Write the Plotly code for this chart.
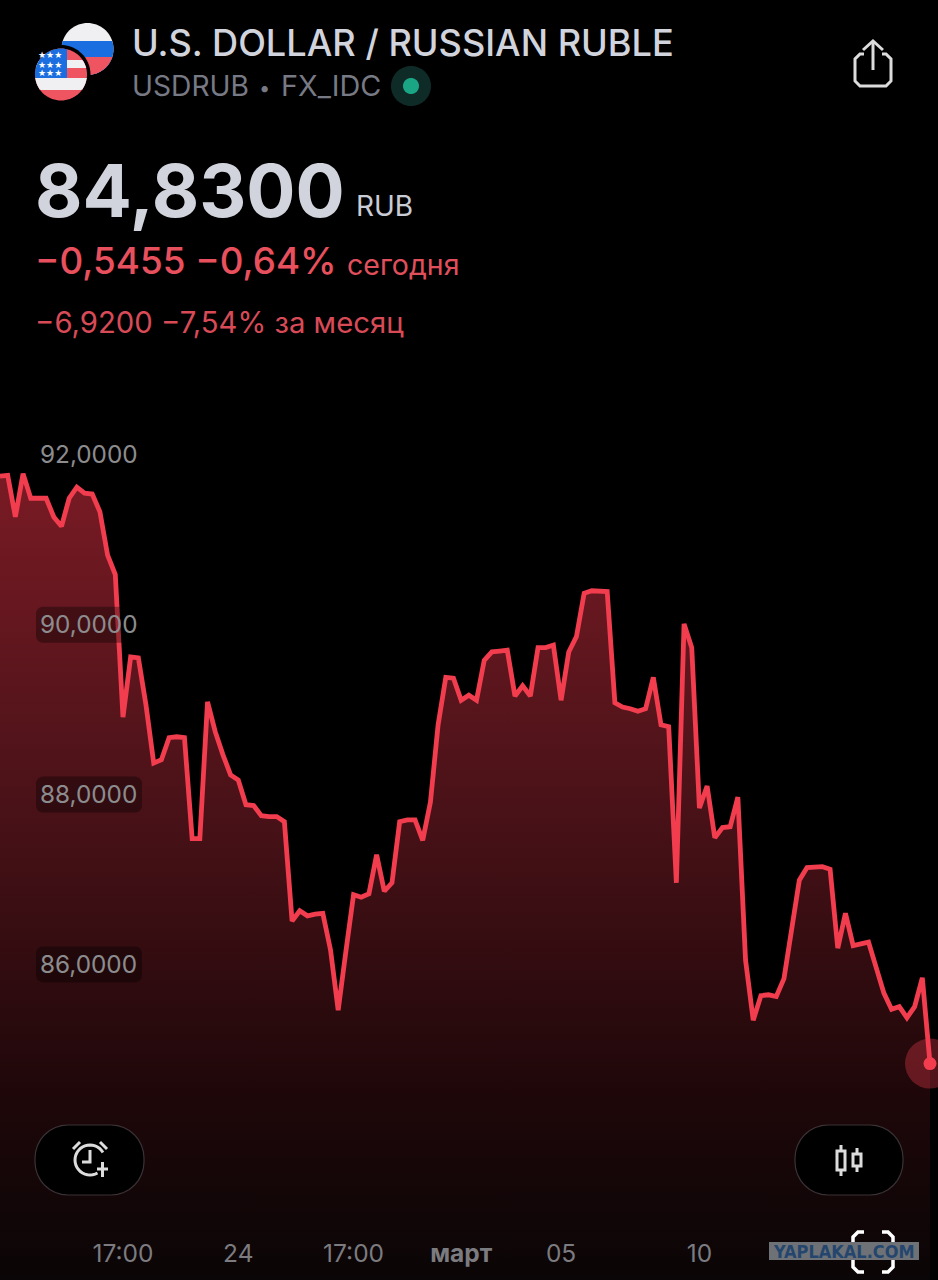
import math
import plotly.graph_objects as go

# USDRUB closes, left to right
prices = [
    91.75, 91.76, 91.27, 91.78, 91.49, 91.49, 91.49, 91.27, 91.16, 91.49,
    91.62, 91.55, 91.54, 91.33, 90.82, 90.59, 88.91, 89.62, 89.61, 89.05,
    88.37, 88.41, 88.67, 88.68, 88.67, 87.48, 87.48, 89.09, 88.74, 88.47,
    88.23, 88.17, 87.88, 87.87, 87.75, 87.74, 87.74, 87.68, 86.51, 86.63,
    86.57, 86.59, 86.60, 86.17, 85.46, 86.15, 86.82, 86.79, 86.83, 87.29,
    86.86, 86.96, 87.68, 87.70, 87.70, 87.46, 87.91, 88.82, 89.38, 89.37,
    89.11, 89.17, 89.11, 89.58, 89.68, 89.69, 89.70, 89.16, 89.28, 89.16,
    89.73, 89.73, 89.76, 89.11, 89.68, 89.86, 90.37, 90.40, 90.40, 90.39,
    89.08, 89.03, 89.01, 88.98, 89.01, 89.38, 88.82, 88.80, 86.96, 90.01,
    89.73, 87.84, 88.10, 87.49, 87.61, 87.62, 87.97, 86.05, 85.34, 85.63,
    85.64, 85.62, 85.83, 86.40, 86.99, 87.14, 87.15, 87.15, 87.12, 86.19,
    86.60, 86.22, 86.24, 86.26, 85.96, 85.66, 85.47, 85.50, 85.37, 85.50,
    85.84, 84.83,
]
bars = list(range(len(prices)))
last_price = prices[-1]

y_ticks = [92, 90, 88, 86]
y_labels = ["92,0000", "90,0000", "88,0000", "86,0000"]
x_ticks = [16, 31, 46, 60, 73, 91]
x_labels = ["17:00", "24", "17:00", "<b>март</b>", "05", "10"]

W, H = 938, 1280
FONT = "Inter"
RED = "#f23d4f"
TXT_RED = "#e9505e"


def px(x):
    return x / W


def py(y):
    return 1 - y / H


def path(points, close=True):
    d = "M" + " L".join(f"{px(x):.5f},{py(y):.5f}" for x, y in points)
    return d + (" Z" if close else "")


def disc(cx, cy, r, xmax=None, top=None, bottom=None):
    # circle outline clamped to a box, enough for flag stripes
    pts = []
    for i in range(72):
        a = i / 72 * 2 * math.pi
        x = cx + r * math.cos(a)
        y = cy + r * math.sin(a)
        if xmax is not None:
            x = min(x, xmax)
        if top is not None:
            y = max(y, top)
        if bottom is not None:
            y = min(y, bottom)
        pts.append((x, y))
    return pts


def fill_shape(points, color):
    return dict(type="path", xref="paper", yref="paper", path=path(points),
                fillcolor=color, line_width=0, layer="above")


def stroke_shape(points, color="#dcdcdc", width=3, close=False):
    return dict(type="path", xref="paper", yref="paper", path=path(points, close),
                line=dict(color=color, width=width), layer="above")


def rounded(x0, y0, x1, y1, r, steps=8):
    pts = []
    corners = [(x1 - r, y0 + r, -90), (x1 - r, y1 - r, 0), (x0 + r, y1 - r, 90), (x0 + r, y0 + r, 180)]
    for cx, cy, start in corners:
        for i in range(steps + 1):
            a = math.radians(start + 90 * i / steps)
            pts.append((cx + r * math.cos(a), cy + r * math.sin(a)))
    return pts


def label(x, y, text, size, color, weight=400, family=FONT):
    # annotations carry about 3px of padding on the left
    return dict(xref="paper", yref="paper", x=px(x - 3), y=py(y), text=text, showarrow=False,
                xanchor="left", yanchor="middle", align="left",
                font=dict(family=family, size=size, color=color, weight=weight))


fig = go.Figure()
fig.add_trace(go.Scatter(
    x=bars, y=prices, mode="lines", fill="tozeroy",
    line=dict(color=RED, width=4.8),
    fillgradient=dict(type="vertical", start=92, stop=82.28,
                      colorscale=[[0, "#7c1b25"], [0.42, "#4a1218"], [0.78, "#1e0709"], [1, "#0a0506"]]),
    hoverinfo="skip", showlegend=False,
))
fig.add_trace(go.Scatter(
    x=[bars[-1]], y=[last_price], mode="markers",
    marker=dict(size=50, color="rgba(242,61,79,0.33)"), hoverinfo="skip", showlegend=False,
))
fig.add_trace(go.Scatter(
    x=[bars[-1]], y=[last_price], mode="markers",
    marker=dict(size=13, color=RED), hoverinfo="skip", showlegend=False,
))

shapes = [
    dict(type="line", xref="paper", yref="y", x0=0, x1=px(905), y0=last_price, y1=last_price,
         line=dict(color="#a0a0a0", width=1.5, dash="9px,17px"), layer="between"),
]

# boxes behind the price labels
for tick in y_ticks:
    yc = 455 + (92 - tick) * 84.9
    shapes.append(fill_shape(rounded(36, yc - 18, 142, yc + 18, 7), "rgba(0,0,0,0.35)"))

# flags
shapes += [
    fill_shape(disc(87.5, 49, 26), "#f0f0f2"),
    fill_shape(disc(87.5, 49, 26, top=41, bottom=75), "#1a6ee0"),
    fill_shape(disc(87.5, 49, 26, top=57, bottom=75), "#ef5560"),
    fill_shape(disc(61, 74.5, 29.5), "#000000"),
    fill_shape(disc(61, 74.5, 26), "#ef5560"),
    fill_shape(disc(61, 74.5, 26, top=60, bottom=68), "#f0f0f2"),
    fill_shape(disc(61, 74.5, 26, top=78, bottom=90), "#f0f0f2"),
    fill_shape(disc(61, 74.5, 26, xmax=67, bottom=78), "#1a6ee0"),
]

# status dot
shapes += [
    fill_shape(disc(411, 86, 20), "#0f2b27"),
    fill_shape(disc(411, 86, 8), "#1aa585"),
]

# share icon
shapes += [
    stroke_shape([(864, 54), (860, 54), (855, 59), (855, 81), (860, 86), (886, 86), (891, 81), (891, 59), (886, 54), (882, 54)]),
    stroke_shape([(873, 41), (873, 70)]),
    stroke_shape([(863, 50), (873, 41), (883, 50)]),
]

# bottom buttons
for x0, x1 in [(35, 144), (795, 903)]:
    shapes.append(dict(type="path", xref="paper", yref="paper", path=path(rounded(x0, 1125, x1, 1195, 33)),
                       fillcolor="#000000", line=dict(color="#3b3336", width=1.2), layer="above"))

# alarm icon
clock = [(90 + 15 * math.cos(math.radians(a)), 1160 + 15 * math.sin(math.radians(a))) for a in range(60, 340, 10)]
shapes += [
    stroke_shape(clock),
    stroke_shape([(90, 1150), (90, 1162), (82, 1162)]),
    stroke_shape([(73, 1149), (80, 1142)]),
    stroke_shape([(107, 1149), (100, 1142)]),
    stroke_shape([(97, 1169), (108, 1169)]),
    stroke_shape([(102.5, 1162), (102.5, 1177)]),
]

# candle icon
shapes += [
    stroke_shape([(837, 1151), (845, 1151), (845, 1170), (837, 1170)], close=True),
    stroke_shape([(841, 1145), (841, 1151)]),
    stroke_shape([(841, 1170), (841, 1176)]),
    stroke_shape([(853, 1154), (861, 1154), (861, 1166), (853, 1166)], close=True),
    stroke_shape([(857, 1148), (857, 1154)]),
    stroke_shape([(857, 1166), (857, 1172)]),
]

# scan brackets and watermark
shapes += [
    stroke_shape([(864, 1232), (858, 1232), (853, 1237), (853, 1246)], "#ffffff", 3.5),
    stroke_shape([(882, 1232), (888, 1232), (893, 1237), (893, 1246)], "#ffffff", 3.5),
    stroke_shape([(853, 1258), (853, 1267), (858, 1272), (864, 1272)], "#ffffff", 3.5),
    stroke_shape([(893, 1258), (893, 1267), (888, 1272), (882, 1272)], "#ffffff", 3.5),
    fill_shape([(769, 1242), (919, 1242), (919, 1260), (769, 1260)], "#6e7276"),
]

annotations = [
    label(133, 43, "U.S. DOLLAR / RUSSIAN RUBLE", 36.15, "#d1d4dc", 500),
    label(133, 86, "USDRUB", 28.2, "#777a85"),
    label(260, 88, "•", 20, "#777a85"),
    label(282, 86, "FX_IDC", 28.8, "#777a85"),
    label(36, 190, "84,8300", 73, "#d1d4dc", 700),
    label(357, 206, "RUB", 28, "#c9ccd4"),
    label(36, 260, "−0,5455 −0,64%", 36.8, TXT_RED, 500),
    label(348, 264, "сегодня", 28.5, "#e04f5c"),
    label(36, 322, "−6,9200 −7,54% за месяц", 29.3, "#d94a57"),
    label(39, 55, "★★★", 9, "#ffffff", family="DejaVu Sans"),
    label(39, 65, "★★★", 9, "#ffffff", family="DejaVu Sans"),
    label(39, 73.5, "★★★", 9, "#ffffff", family="DejaVu Sans"),
    dict(xref="paper", yref="paper", x=px(844), y=py(1251), text="<b>YAPLAKAL.COM</b>", showarrow=False,
         xanchor="center", yanchor="middle",
         font=dict(family="DejaVu Sans Condensed", size=18, color="#24466e")),
]

fig.update_layout(
    width=W, height=H,
    margin=dict(l=0, r=0, t=0, b=0),
    paper_bgcolor="#000000", plot_bgcolor="#000000",
    shapes=shapes, annotations=annotations,
    # both axes float inside the page; labels stay "outside" so plotly doesn't hide any of them
    xaxis=dict(range=[0, 122.04], showgrid=False, zeroline=False, showline=False, ticks="",
               anchor="free", position=0.034,
               tickmode="array", tickvals=x_ticks, ticktext=x_labels,
               tickfont=dict(family=FONT, size=24.5, color="#7b7b80")),
    yaxis=dict(range=[82.28, 97.36], showgrid=False, zeroline=False, showline=False, ticks="",
               anchor="free", position=39 / W, side="right",
               tickmode="array", tickvals=y_ticks, ticktext=y_labels,
               tickfont=dict(family=FONT, size=24.3, color="#d8d8dc")),
)

fig.write_html("out.html", config=dict(displayModeBar=False),
               post_script="document.body.style.margin='0';document.body.style.background='#000';")
